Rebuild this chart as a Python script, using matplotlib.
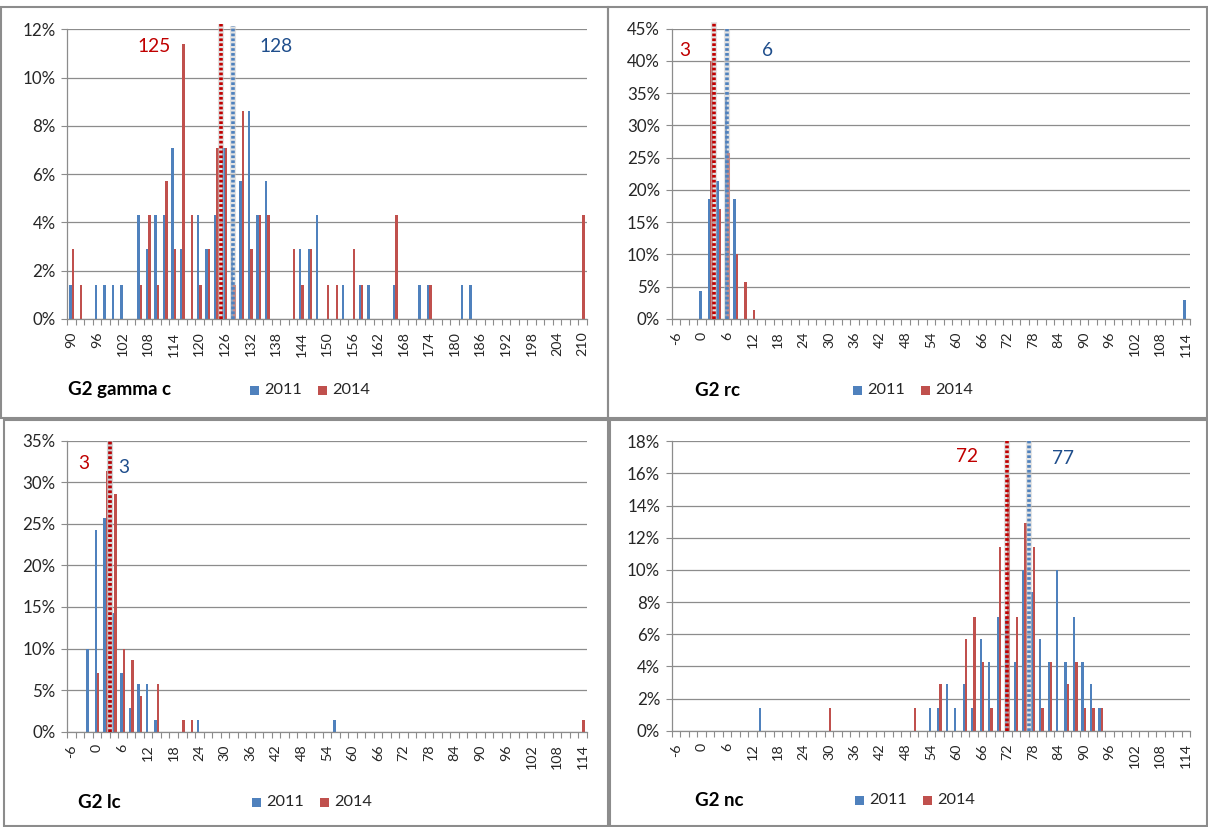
import numpy as np
import matplotlib
matplotlib.use("Agg")
import matplotlib.pyplot as plt
import matplotlib.transforms as mtransforms
from matplotlib.patches import Rectangle

plt.rcParams['font.family'] = ['Lato', 'DejaVu Sans']

# ---------------- data (share of cases, %) ----------------
# G2 gamma c
gamma_x_2011 = [90, 96, 98, 100, 102, 106, 108, 110, 112, 114, 116, 120, 122, 124, 126, 128,
                130, 132, 134, 136, 144, 146, 148, 154, 158, 160, 166, 172, 174, 182, 184]
gamma_pct_2011 = [1.4, 1.4, 1.4, 1.4, 1.4, 4.3, 2.9, 4.3, 4.3, 7.1, 2.9, 4.3, 2.9, 4.3, 7.1, 2.9,
                  5.7, 8.6, 4.3, 5.7, 2.9, 2.9, 4.3, 1.4, 1.4, 1.4, 1.4, 1.4, 1.4, 1.4, 1.4]
gamma_x_2014 = [90, 92, 106, 108, 110, 112, 114, 116, 118, 120, 122, 124, 126, 128, 130, 132,
                134, 136, 142, 144, 146, 150, 152, 156, 158, 166, 174, 210]
gamma_pct_2014 = [2.9, 1.4, 1.4, 4.3, 1.4, 5.7, 2.9, 11.4, 4.3, 1.4, 2.9, 7.1, 7.1, 1.4, 8.6, 2.9,
                  4.3, 4.3, 2.9, 1.4, 2.9, 1.4, 1.4, 2.9, 1.4, 4.3, 1.4, 4.3]
gamma_median_2011, gamma_median_2014 = 128, 125

# G2 rc
rc_x_2011 = [0, 2, 4, 6, 8, 114]
rc_pct_2011 = [4.3, 18.6, 21.4, 34.3, 18.6, 2.9]
rc_x_2014 = [2, 4, 6, 8, 10, 12]
rc_pct_2014 = [40.0, 17.1, 25.7, 10.0, 5.7, 1.4]
rc_median_2011, rc_median_2014 = 6, 3

# G2 lc
lc_x_2011 = [-2, 0, 2, 4, 6, 8, 10, 12, 14, 24, 56]
lc_pct_2011 = [10.0, 24.3, 25.7, 14.3, 7.1, 2.9, 5.7, 5.7, 1.4, 1.4, 1.4]
lc_x_2014 = [0, 2, 4, 6, 8, 10, 14, 20, 22, 114]
lc_pct_2014 = [7.1, 31.4, 28.6, 10.0, 8.6, 4.3, 5.7, 1.4, 1.4, 1.4]
lc_median_2011, lc_median_2014 = 3, 3

# G2 nc
nc_x_2011 = [14, 54, 56, 58, 60, 62, 64, 66, 68, 70, 72, 74, 76, 78, 80, 82, 84, 86, 88, 90, 92, 94]
nc_pct_2011 = [1.4, 1.4, 1.4, 2.9, 1.4, 2.9, 1.4, 5.7, 4.3, 7.1, 7.1, 4.3, 10.0, 8.6, 5.7, 4.3,
               10.0, 4.3, 7.1, 4.3, 2.9, 1.4]
nc_x_2014 = [30, 50, 56, 62, 64, 66, 68, 70, 72, 74, 76, 78, 80, 82, 86, 88, 90, 92, 94]
nc_pct_2014 = [1.4, 1.4, 2.9, 5.7, 7.1, 4.3, 1.4, 11.4, 15.7, 7.1, 12.9, 11.4, 1.4, 4.3, 2.9,
               4.3, 1.4, 1.4, 1.4]
nc_median_2011, nc_median_2014 = 77, 72

# category axes (first bin, last bin)
gamma_bins = (90, 210)
other_bins = (-6, 114)
series_names = ['2011', '2014']

# ---------------- styling ----------------
W, H = 1208, 827
BLUE = '#4F81BD'
RED = '#C0504D'
LINE_RED = '#C00000'
LINE_BLUE = '#4F81BD'
TXT_RED = '#C00000'
TXT_BLUE = '#1F4E8C'
GRID = '#8C8C8C'
TICK_TXT = '#262626'

fig = plt.figure(figsize=(W / 100, H / 100), dpi=100)


def px_rect(left, top, right, bottom):
    return [left / W, 1 - bottom / H, (right - left) / W, (bottom - top) / H]


def fx(x):
    return x / W


def fy(y):
    return 1 - y / H


def panel(box, bins, ymax, ystep, x11, p11, x14, p14, med11, med14,
          red_top, blue_top):
    ax = fig.add_axes(px_rect(*box))
    lo, hi = bins
    ax.set_xlim(lo - 1, hi + 1)
    ax.set_ylim(0, ymax)
    bw = 0.56
    ax.bar(np.array(x11) - bw / 2, p11, width=bw, color=BLUE, linewidth=0, zorder=2)
    ax.bar(np.array(x14) + bw / 2, p14, width=bw, color=RED, linewidth=0, zorder=2)

    # horizontal grid
    yt = np.arange(0, ymax + 1e-9, ystep)
    ax.set_yticks(yt)
    ax.set_yticklabels([f"{v:.0f}%" for v in yt])
    ax.yaxis.grid(True, color=GRID, linewidth=0.9)
    ax.set_axisbelow(True)

    # category axis: labels every third bin, tick marks between bins
    xt = np.arange(lo, hi + 1, 6)
    ax.set_xticks(xt)
    ax.set_xticklabels([str(v) for v in xt], rotation=90, fontsize=10.3, color=TICK_TXT)
    ax.set_xticks(np.arange(lo - 1, hi + 2, 2), minor=True)
    ax.tick_params(axis='x', which='major', length=0, pad=9)
    ax.tick_params(axis='x', which='minor', length=4.5, width=0.8, color=GRID, direction='out')
    ax.tick_params(axis='y', which='major', length=4.5, width=0.8, color=GRID,
                   labelsize=12.2, labelcolor=TICK_TXT, pad=4)
    for s in ['top', 'right']:
        ax.spines[s].set_visible(False)
    for s in ['left', 'bottom']:
        ax.spines[s].set_color(GRID)
        ax.spines[s].set_linewidth(0.9)

    # median markers
    trans = mtransforms.blended_transform_factory(ax.transData, ax.transAxes)
    for m, col, top, z in [(med11, LINE_BLUE, blue_top, 4), (med14, LINE_RED, red_top, 5)]:
        ax.plot([m, m], [0, top], transform=trans, color='#C8C8C8', alpha=0.5, lw=4.4,
                solid_capstyle='butt', clip_on=False, zorder=z)
        ax.plot([m, m], [0, top], transform=trans, color=col, lw=2.6,
                linestyle=(0, (0.75, 0.6)), dash_capstyle='butt', clip_on=False, zorder=z)
    return ax


def legend_and_title(title, tx, ty, lx):
    fig.text(fx(tx), fy(ty), title, fontsize=13.5, fontweight='bold', color='black',
             ha='left', va='center')
    for dx, col, name in [(0, BLUE, series_names[0]), (68, RED, series_names[1])]:
        fig.patches.append(Rectangle((fx(lx + dx), fy(ty + 4.5)), 8.5 / W, 8.5 / H,
                                     transform=fig.transFigure, facecolor=col,
                                     edgecolor='none'))
        fig.text(fx(lx + dx + 14), fy(ty), name, fontsize=11.8, color=TICK_TXT,
                 ha='left', va='center')


# panel frames
for (l, t, r, b) in [(1, 7, 608, 418), (608, 7, 1207, 418),
                     (4, 420, 608, 826), (610, 420, 1207, 826)]:
    fig.patches.append(Rectangle((fx(l), fy(b)), (r - l) / W, (b - t) / H,
                                 transform=fig.transFigure, fill=False,
                                 edgecolor='#8C8C8C', linewidth=1.5))

panel((67.3, 29.3, 586.7, 319), gamma_bins, 12, 2,
      gamma_x_2011, gamma_pct_2011, gamma_x_2014, gamma_pct_2014,
      gamma_median_2011, gamma_median_2014, 1.02, 1.01)
panel((672, 28.7, 1190, 319), other_bins, 45, 5,
      rc_x_2011, rc_pct_2011, rc_x_2014, rc_pct_2014,
      rc_median_2011, rc_median_2014, 1.023, 1.0)
panel((67.3, 440.7, 586.7, 731.7), other_bins, 35, 5,
      lc_x_2011, lc_pct_2011, lc_x_2014, lc_pct_2014,
      lc_median_2011, lc_median_2014, 1.0, 1.0)
panel((672, 441.3, 1190, 730.7), other_bins, 18, 2,
      nc_x_2011, nc_pct_2011, nc_x_2014, nc_pct_2014,
      nc_median_2011, nc_median_2014, 1.0, 1.0)

# median value labels
for x, y, val, col in [(154, 46.7, gamma_median_2014, TXT_RED),
                       (276, 46, gamma_median_2011, TXT_BLUE),
                       (685, 50.7, rc_median_2014, TXT_RED),
                       (767.3, 50.7, rc_median_2011, TXT_BLUE),
                       (83.3, 463.3, lc_median_2014, TXT_RED),
                       (123.3, 467, lc_median_2011, TXT_BLUE),
                       (966.7, 456.7, nc_median_2014, TXT_RED),
                       (1063.3, 458.3, nc_median_2011, TXT_BLUE)]:
    fig.text(fx(x), fy(y), str(val), fontsize=13.8, color=col, ha='center', va='center')

legend_and_title('G2 gamma c', 68, 390, 250)
legend_and_title('G2 rc', 695, 390, 853)
legend_and_title('G2 lc', 78, 802, 252)
legend_and_title('G2 nc', 695, 800, 855)

fig.savefig('out.png', dpi=100, facecolor='white')
